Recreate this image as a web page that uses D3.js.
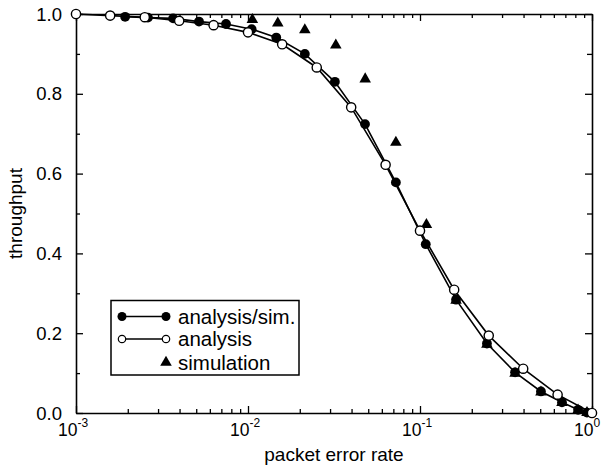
<!DOCTYPE html>
<html>
<head>
<meta charset="utf-8">
<script src="https://cdn.jsdelivr.net/npm/d3@7"></script>
<style>
  html, body { margin: 0; padding: 0; background: #fff; }
  svg { display: block; font-family: "Liberation Sans", Arial, Helvetica, sans-serif; }
</style>
</head>
<body>
<svg id="chart" width="601" height="468"></svg>
<script>
// ---- data ----
const analysisX = [0.001, 0.00158, 0.00251, 0.00398, 0.00631, 0.01, 0.0158, 0.0251, 0.0398, 0.0631, 0.1, 0.158, 0.251, 0.398, 0.631, 1.0];
const analysisY = [1.0, 0.996, 0.992, 0.983, 0.972, 0.954, 0.924, 0.866, 0.766, 0.622, 0.457, 0.309, 0.194, 0.111, 0.046, 0.0];

const analysisSimX = [0.00193, 0.00262, 0.00367, 0.00519, 0.00745, 0.0105, 0.0146, 0.0214, 0.032, 0.0479, 0.0724, 0.108, 0.162, 0.245, 0.357, 0.505, 0.669, 0.83, 0.935];
const analysisSimY = [0.993, 0.991, 0.989, 0.981, 0.975, 0.962, 0.941, 0.900, 0.830, 0.724, 0.578, 0.423, 0.284, 0.174, 0.102, 0.054, 0.027, 0.008, 0.001];

const simulationX = [0.0106, 0.0149, 0.0214, 0.0324, 0.048, 0.0724, 0.109, 0.162, 0.245, 0.357, 0.505, 0.669, 0.83, 0.935];
const simulationY = [0.986, 0.977, 0.960, 0.922, 0.837, 0.678, 0.472, 0.282, 0.172, 0.099, 0.052, 0.026, 0.007, 0.001];

const xMajorTicks = [0.001, 0.01, 0.1, 1];
const xTickExponents = ["-3", "-2", "-1", "0"];
const yMajorTicks = [0, 0.2, 0.4, 0.6, 0.8, 1.0];
const yMinorTicks = [0.1, 0.3, 0.5, 0.7, 0.9];
const legendLabels = ["analysis/sim.", "analysis", "simulation"];
const xTitle = "packet error rate";
const yTitle = "throughput";

// ---- layout ----
const pL = 76, pR = 592, pT = 14, pB = 413;
const svg = d3.select("#chart");

const x = d3.scaleLog().domain([0.001, 1]).range([pL, pR]);
const y = d3.scaleLinear().domain([0, 1]).range([pB, pT]);

const xMinorTicks = [];
for (let e = -3; e < 0; e++) for (let m = 2; m <= 9; m++) xMinorTicks.push(m * Math.pow(10, e));

// axes with inward ticks
function styleAxis(g) {
  g.selectAll("path.domain").attr("stroke", "#000").attr("stroke-width", 1.6);
  g.selectAll(".tick line").attr("stroke", "#000").attr("stroke-width", 1.3);
  g.selectAll(".tick text").remove();
}
svg.append("g").attr("transform", `translate(0,${pB})`)
  .call(d3.axisBottom(x).tickValues(xMajorTicks).tickSizeInner(-7).tickSizeOuter(0).tickFormat(""))
  .call(styleAxis);
svg.append("g").attr("transform", `translate(0,${pB})`)
  .call(d3.axisBottom(x).tickValues(xMinorTicks).tickSizeInner(-4).tickSizeOuter(0).tickFormat(""))
  .call(g => { g.select("path.domain").remove(); styleAxis(g); });
svg.append("g").attr("transform", `translate(0,${pT})`)
  .call(d3.axisTop(x).tickValues(xMajorTicks).tickSizeInner(-7).tickSizeOuter(0).tickFormat(""))
  .call(styleAxis);
svg.append("g").attr("transform", `translate(0,${pT})`)
  .call(d3.axisTop(x).tickValues(xMinorTicks).tickSizeInner(-4).tickSizeOuter(0).tickFormat(""))
  .call(g => { g.select("path.domain").remove(); styleAxis(g); });

svg.append("g").attr("transform", `translate(${pL},0)`)
  .call(d3.axisLeft(y).tickValues(yMajorTicks).tickSizeInner(-7).tickSizeOuter(0).tickFormat(""))
  .call(styleAxis);
svg.append("g").attr("transform", `translate(${pL},0)`)
  .call(d3.axisLeft(y).tickValues(yMinorTicks).tickSizeInner(-4).tickSizeOuter(0).tickFormat(""))
  .call(g => { g.select("path.domain").remove(); styleAxis(g); });
svg.append("g").attr("transform", `translate(${pR},0)`)
  .call(d3.axisRight(y).tickValues(yMajorTicks).tickSizeInner(-7).tickSizeOuter(0).tickFormat(""))
  .call(styleAxis);
svg.append("g").attr("transform", `translate(${pR},0)`)
  .call(d3.axisRight(y).tickValues(yMinorTicks).tickSizeInner(-5).tickSizeOuter(0).tickFormat(""))
  .call(g => { g.select("path.domain").remove(); styleAxis(g); });

// tick labels
svg.append("g").selectAll("text").data(yMajorTicks).join("text")
  .attr("x", pL - 14).attr("y", d => y(d)).attr("dy", "0.36em")
  .attr("text-anchor", "end").attr("font-size", 18.5).attr("fill", "#000")
  .text(d => d.toFixed(1));

const xl = svg.append("g").selectAll("text").data(xMajorTicks).join("text")
  .attr("x", d => x(d) - 18).attr("y", 436)
  .attr("font-size", 17.5).attr("fill", "#000");
xl.append("tspan").text("10");
xl.append("tspan").attr("font-size", 12).attr("dy", -9).text((d, i) => xTickExponents[i]);

// axis titles
svg.append("text").attr("x", (pL + pR) / 2).attr("y", 461)
  .attr("text-anchor", "middle").attr("font-size", 19).text(xTitle);
svg.append("text").attr("transform", `translate(22,${(pT + pB) / 2}) rotate(-90)`)
  .attr("text-anchor", "middle").attr("font-size", 19).text(yTitle);

// data
const analysisData = analysisX.map((v, i) => [v, analysisY[i]]);
const simData = analysisSimX.map((v, i) => [v, analysisSimY[i]]);
const triData = simulationX.map((v, i) => [v, simulationY[i]]);

const line = d3.line().x(d => x(d[0])).y(d => y(d[1]));
svg.append("path").datum(analysisData).attr("d", line)
  .attr("fill", "none").attr("stroke", "#000").attr("stroke-width", 1.6);
svg.append("path").datum(simData).attr("d", line)
  .attr("fill", "none").attr("stroke", "#000").attr("stroke-width", 1.6);

const tri = d3.symbol().type(d3.symbolTriangle).size(58);
svg.append("g").selectAll("path").data(triData).join("path")
  .attr("d", tri).attr("transform", d => `translate(${x(d[0])},${y(d[1])})`).attr("fill", "#000");

svg.append("g").selectAll("circle").data(simData).join("circle")
  .attr("cx", d => x(d[0])).attr("cy", d => y(d[1])).attr("r", 4.9).attr("fill", "#000");
svg.append("g").selectAll("circle").data(analysisData).join("circle")
  .attr("cx", d => x(d[0])).attr("cy", d => y(d[1])).attr("r", 4.6)
  .attr("fill", "#fff").attr("stroke", "#000").attr("stroke-width", 1.4);

// legend
const lg = svg.append("g");
lg.append("rect").attr("x", 111).attr("y", 300.5).attr("width", 188).attr("height", 74.5)
  .attr("fill", "#fff").attr("stroke", "#000").attr("stroke-width", 1.5);
const rowY = [316.5, 339, 362.5];
const lx1 = 122, lx2 = 166;
lg.append("line").attr("x1", lx1).attr("x2", lx2).attr("y1", rowY[0]).attr("y2", rowY[0]).attr("stroke", "#000").attr("stroke-width", 1.6);
[lx1, lx2].forEach(cx => lg.append("circle").attr("cx", cx).attr("cy", rowY[0]).attr("r", 4.5).attr("fill", "#000"));
lg.append("line").attr("x1", lx1).attr("x2", lx2).attr("y1", rowY[1]).attr("y2", rowY[1]).attr("stroke", "#000").attr("stroke-width", 1.3);
[lx1, lx2].forEach(cx => lg.append("circle").attr("cx", cx).attr("cy", rowY[1]).attr("r", 3.7).attr("fill", "#fff").attr("stroke", "#000").attr("stroke-width", 1.2));
lg.append("path").attr("d", tri).attr("transform", `translate(${lx2},${rowY[2]})`).attr("fill", "#000");
lg.selectAll("text.lab").data(legendLabels).join("text").attr("class", "lab")
  .attr("x", 178).attr("y", (d, i) => rowY[i] + 7).attr("font-size", 20.5).text(d => d);
</script>
</body>
</html>
